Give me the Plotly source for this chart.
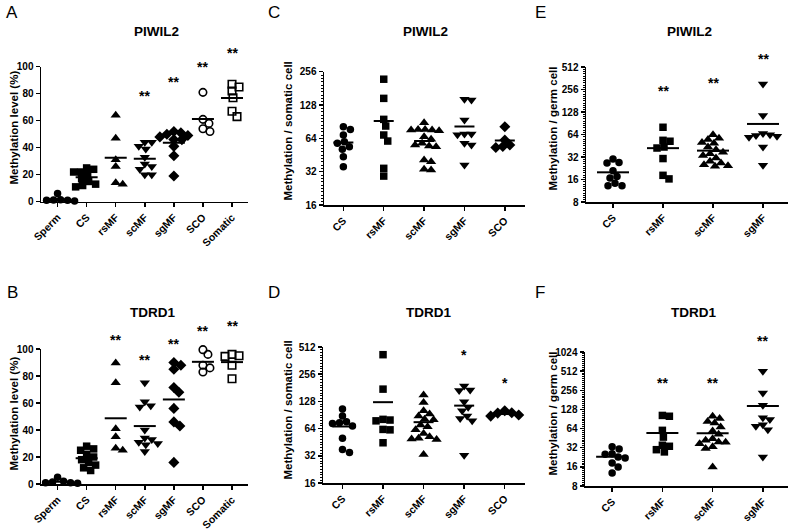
import numpy as np
import plotly.graph_objects as go

W, H = 793, 531

# ---------------- data ----------------
cats_A = ["Sperm", "CS", "rsMF", "scMF", "sgMF", "SCO", "Somatic"]
cats_C = ["CS", "rsMF", "scMF", "sgMF", "SCO"]
cats_E = ["CS", "rsMF", "scMF", "sgMF"]

# A: PIWIL2 methylation level (%)
a_sperm = [6, 1, 0.5, 1.5, 1, 0.5, 1.2]
a_cs = [25, 24, 22, 20, 17, 15, 13, 12, 11, 22]
a_rsmf = [64, 47, 31, 26, 13, 14]
a_scmf = [44, 44, 41, 39, 33, 28, 24, 26, 20, 20]
a_sgmf = [52, 51, 50, 49, 48, 46, 46, 41, 34, 19]
a_sco = [81, 61, 58, 54, 52]
a_somatic = [87, 85, 82, 77, 67, 63]
a_star_cats = [3, 4, 5, 6]
a_star_y = [78, 89, 99.5, 110]

# B: TDRD1 methylation level (%)
b_sperm = [5, 2, 1, 0.5, 1, 1.5, 0.8]
b_cs = [28, 26, 25, 22, 20, 18, 16, 14, 12, 10]
b_rsmf = [89.6, 75, 41, 35, 26.5, 25]
b_scmf = [75, 61, 58, 57, 40, 34, 33, 31, 30, 29, 24]
b_sgmf = [90, 88, 85, 71.5, 68, 56, 46, 43, 16]
b_sco = [99.5, 96, 88, 86, 83]
b_somatic = [96, 95, 94.5, 88, 78]
b_star_cats = [2, 3, 4, 5, 6]
b_star_y = [107, 92, 104, 113, 117]

# C: PIWIL2 methylation / somatic cell
c_cs = [81.6, 77, 68.6, 59.7, 57.7, 53.8, 50.9, 43.7, 35.5]
c_rsmf = [219, 147, 95, 82.7, 68.6, 60.5, 34.3, 29.2]
c_scmf = [88.6, 77, 76, 75, 76, 77, 66, 62.7, 57.7, 55.7, 53.8, 54.5, 40.8, 39.4, 33.1, 33.6]
c_sgmf = [142, 144, 93.7, 70, 69, 70, 57.7, 55.7, 36.8]
c_sco = [81.6, 61.8, 55.7, 53, 54]
c_star_cats = []
c_star_y = []

# D: TDRD1 methylation / somatic cell
d_cs = [105.6, 88, 74.5, 73, 76, 68.6, 49.9, 37.5, 34.8]
d_rsmf = [421, 175, 81, 79.6, 78, 62.7, 62, 44.6]
d_scmf = [151, 124.5, 101, 93, 88, 81, 80, 70, 67, 62, 56.5, 52, 49.9, 49, 48.5, 33]
d_sgmf = [190, 171, 169, 127, 110, 101, 88, 83, 78, 32.5]
d_sco = [101, 96, 90.5, 86, 88, 95]
d_star_cats = [3, 4]
d_star_y = [421, 204]

# E: PIWIL2 methylation / germ cell
e_cs = [30, 26.6, 27, 21, 17.6, 16.8, 14.3, 13.2, 13.2]
e_rsmf = [80, 52, 53.5, 43.5, 42.2, 30.5, 18.2, 16.3]
e_scmf = [63.5, 57, 55, 50, 49, 43.5, 40, 37, 35.5, 33.4, 31, 28, 26.6, 25.3, 24.4, 24]
e_sgmf = [303, 115, 63.5, 60.5, 59, 62, 66, 43.5, 24.8]
e_star_cats = [1, 2, 3]
e_star_y = [247, 313, 657]

# F: TDRD1 methylation / germ cell
f_cs = [30.6, 33, 25.3, 25.8, 22.9, 18.4, 15.9, 12.8, 22]
f_rsmf = [103, 100, 60, 47, 35, 33.7, 29.8, 27.5]
f_scmf = [100, 92, 83, 78, 68, 58.5, 52, 44.3, 42, 39.4, 39, 37, 33, 31, 15.9]
f_sgmf = [510, 232, 149, 95, 88.6, 73.5, 69.6, 61.4, 22.9]
f_star_cats = [1, 2, 3]
f_star_y = [333, 333, 1530]

sym_A = ["circle", "square", "triangle-up", "triangle-down", "diamond", "circle-open", "square-open"]
sym_C = ["circle", "square", "triangle-up", "triangle-down", "diamond"]

panels = [
    dict(letter="A", title="PIWIL2", cats=cats_A, groups=[a_sperm, a_cs, a_rsmf, a_scmf, a_sgmf, a_sco, a_somatic],
         syms=sym_A, xpx=(41, 248), ypx=(66.7, 201.7), xr=(-0.57, 6.55), log=False, yr=(0, 100),
         ticks=[0, 20, 40, 60, 80, 100], ytitle="Methylation level (%)", ytitle_xy=(13.5, 128), hw=11,
         stars=(a_star_cats, a_star_y, "**"), title_xy=(156, 32), letter_xy=(12, 12)),
    dict(letter="B", title="TDRD1", cats=cats_A, groups=[b_sperm, b_cs, b_rsmf, b_scmf, b_sgmf, b_sco, b_somatic],
         syms=sym_A, xpx=(41, 248), ypx=(349, 484), xr=(-0.57, 6.55), log=False, yr=(0, 100),
         ticks=[0, 20, 40, 60, 80, 100], ytitle="Methylation level (%)", ytitle_xy=(13.5, 414), hw=11,
         stars=(b_star_cats, b_star_y, "**"), title_xy=(152, 312), letter_xy=(12, 292)),
    dict(letter="C", title="PIWIL2", cats=cats_C, groups=[c_cs, c_rsmf, c_scmf, c_sgmf, c_sco],
         syms=sym_C, xpx=(324, 525), ypx=(71.7, 205), xr=(-0.48, 4.5), log=True, yr=(16, 256),
         ticks=[16, 32, 64, 128, 256], ytitle="Methylation / somatic cell", ytitle_xy=(287.5, 131), hw=10,
         stars=(c_star_cats, c_star_y, "**"), title_xy=(425, 32), letter_xy=(274, 12)),
    dict(letter="D", title="TDRD1", cats=cats_C, groups=[d_cs, d_rsmf, d_scmf, d_sgmf, d_sco],
         syms=sym_C, xpx=(323, 525), ypx=(347, 483), xr=(-0.48, 4.5), log=True, yr=(16, 512),
         ticks=[16, 32, 64, 128, 256, 512], ytitle="Methylation / somatic cell", ytitle_xy=(287.5, 410), hw=10,
         stars=(d_star_cats, d_star_y, "*"), title_xy=(428, 312), letter_xy=(274, 292)),
    dict(letter="E", title="PIWIL2", cats=cats_E, groups=[e_cs, e_rsmf, e_scmf, e_sgmf],
         syms=sym_C, xpx=(586, 788), ypx=(67, 202), xr=(-0.54, 3.5), log=True, yr=(8, 512),
         ticks=[8, 16, 32, 64, 128, 256, 512], ytitle="Methylation / germ cell", ytitle_xy=(552.5, 129), hw=16,
         stars=(e_star_cats, e_star_y, "**"), title_xy=(689, 32), letter_xy=(540, 12)),
    dict(letter="F", title="TDRD1", cats=cats_E, groups=[f_cs, f_rsmf, f_scmf, f_sgmf],
         syms=sym_C, xpx=(585, 788), ypx=(352, 486), xr=(-0.54, 3.5), log=True, yr=(8, 1024),
         ticks=[8, 16, 32, 64, 128, 256, 512, 1024], ytitle="Methylation / germ cell", ytitle_xy=(552.5, 414), hw=16,
         stars=(f_star_cats, f_star_y, "**"), title_xy=(693, 312), letter_xy=(540, 292)),
]

FONT = "Liberation Sans, Arial, sans-serif"
MSIZE = 7.5


def swarm_offsets(ypix, size):
    """Deterministic beeswarm: returns horizontal pixel offsets."""
    order = np.argsort(-np.asarray(ypix))
    placed = []
    offs = np.zeros(len(ypix))
    cands = [0.0]
    for k in range(1, 60):
        cands += [k * 1.0, -k * 1.0]
    for i in order:
        y = ypix[i]
        for c in cands:
            if all((c - px) ** 2 + (y - py) ** 2 >= size ** 2 for px, py in placed):
                break
        placed.append((c, y))
        offs[i] = c
    return offs


fig = go.Figure()
layout = dict(width=W, height=H, margin=dict(l=0, r=0, t=0, b=0, autoexpand=False),
              paper_bgcolor="white", plot_bgcolor="white", showlegend=False,
              font=dict(family=FONT, color="black"))
annotations = []

for k, p in enumerate(panels):
    n = "" if k == 0 else str(k + 1)
    xa, ya = "x" + n, "y" + n
    x0, x1 = p["xpx"]
    yt, yb = p["ypx"]
    xdom = [x0 / W, x1 / W]
    ydom = [1 - yb / H, 1 - yt / H]
    xunit = (x1 - x0) / (p["xr"][1] - p["xr"][0])
    hpx = yb - yt
    if p["log"]:
        r = [np.log10(p["yr"][0]), np.log10(p["yr"][1])]
        to_px = lambda v, r=r: (np.log10(np.asarray(v, float)) - r[0]) / (r[1] - r[0]) * hpx
    else:
        r = list(p["yr"])
        to_px = lambda v, r=r: (np.asarray(v, float) - r[0]) / (r[1] - r[0]) * hpx

    for i, vals in enumerate(p["groups"]):
        vals = np.asarray(vals, float)
        offs = swarm_offsets(to_px(vals), MSIZE * 0.9) / xunit
        sym = p["syms"][i]
        size = MSIZE + (1.5 if "triangle" in sym else 0) + (1 if "diamond" in sym else 0)
        fig.add_trace(go.Scatter(
            x=i + offs, y=vals, mode="markers", xaxis=xa, yaxis=ya, cliponaxis=False,
            marker=dict(symbol=sym, size=size, color="black",
                        line=dict(color="black", width=1.6 if "open" in sym else 0))))
        m = float(np.mean(vals))
        hw = p["hw"] / xunit
        fig.add_trace(go.Scatter(x=[i - hw, i + hw], y=[m, m], mode="lines", xaxis=xa, yaxis=ya,
                                 cliponaxis=False, line=dict(color="black", width=2)))

    # significance stars (placed in paper space so they may sit above the axis range)
    sc, sy, stxt = p["stars"]
    for c, v in zip(sc, sy):
        px_x = x0 + (c - p["xr"][0]) * xunit
        px_y = yb - float(to_px(v))
        annotations.append(dict(text="<b>" + stxt + "</b>", x=px_x / W, y=1 - px_y / H,
                                xref="paper", yref="paper", showarrow=False,
                                xanchor="center", yanchor="middle",
                                font=dict(size=14, family=FONT, color="black")))

    layout["xaxis" + n] = dict(
        domain=xdom, anchor=ya, range=list(p["xr"]), tickvals=list(range(len(p["cats"]))),
        ticktext=p["cats"], tickangle=-45, showline=True, linecolor="black", linewidth=1.5,
        ticks="outside", ticklen=4, tickwidth=1.5, tickcolor="black", showgrid=False, zeroline=False,
        tickfont=dict(size=10.5, family=FONT, weight="bold"), fixedrange=True, automargin=False)
    yax = dict(
        domain=ydom, anchor=xa, range=r, tickvals=p["ticks"], ticktext=[str(t) for t in p["ticks"]],
        showline=True, linecolor="black", linewidth=1.5, ticks="outside", ticklen=4, tickwidth=1.5,
        tickcolor="black", showgrid=False, zeroline=False, automargin=False, fixedrange=True,
        tickfont=dict(size=10, family=FONT, weight="bold"))
    if p["log"]:
        yax["type"] = "log"
        lo, hi = int(np.log2(p["yr"][0])), int(np.log2(p["yr"][1]))
        minor_vals = [2 ** (e + j / 10) for e in range(lo, hi) for j in range(1, 10)]
        yax["minor"] = dict(tickvals=minor_vals, ticks="outside", ticklen=2, tickwidth=1,
                            tickcolor="black", showgrid=False)
    layout["yaxis" + n] = yax

    ytx, yty = p["ytitle_xy"]
    annotations.append(dict(text="<b>" + p["ytitle"] + "</b>", x=ytx / W, y=1 - yty / H, xref="paper",
                            yref="paper", showarrow=False, textangle=-90, xanchor="center", yanchor="middle",
                            font=dict(size=11.5, family=FONT, color="black")))
    tx, ty = p["title_xy"]
    annotations.append(dict(text="<b>" + p["title"] + "</b>", x=tx / W, y=1 - ty / H, xref="paper", yref="paper",
                            showarrow=False, xanchor="center", yanchor="middle",
                            font=dict(size=13.5, family=FONT, color="black")))
    lx, ly = p["letter_xy"]
    annotations.append(dict(text=p["letter"], x=lx / W, y=1 - ly / H, xref="paper", yref="paper",
                            showarrow=False, xanchor="center", yanchor="middle",
                            font=dict(size=17, family=FONT, color="black")))

layout["annotations"] = annotations
fig.update_layout(**layout)
fig.write_html("out.html", config={"displayModeBar": False, "staticPlot": True},
               post_script="document.body.style.margin='0px';document.body.style.overflow='hidden';")
